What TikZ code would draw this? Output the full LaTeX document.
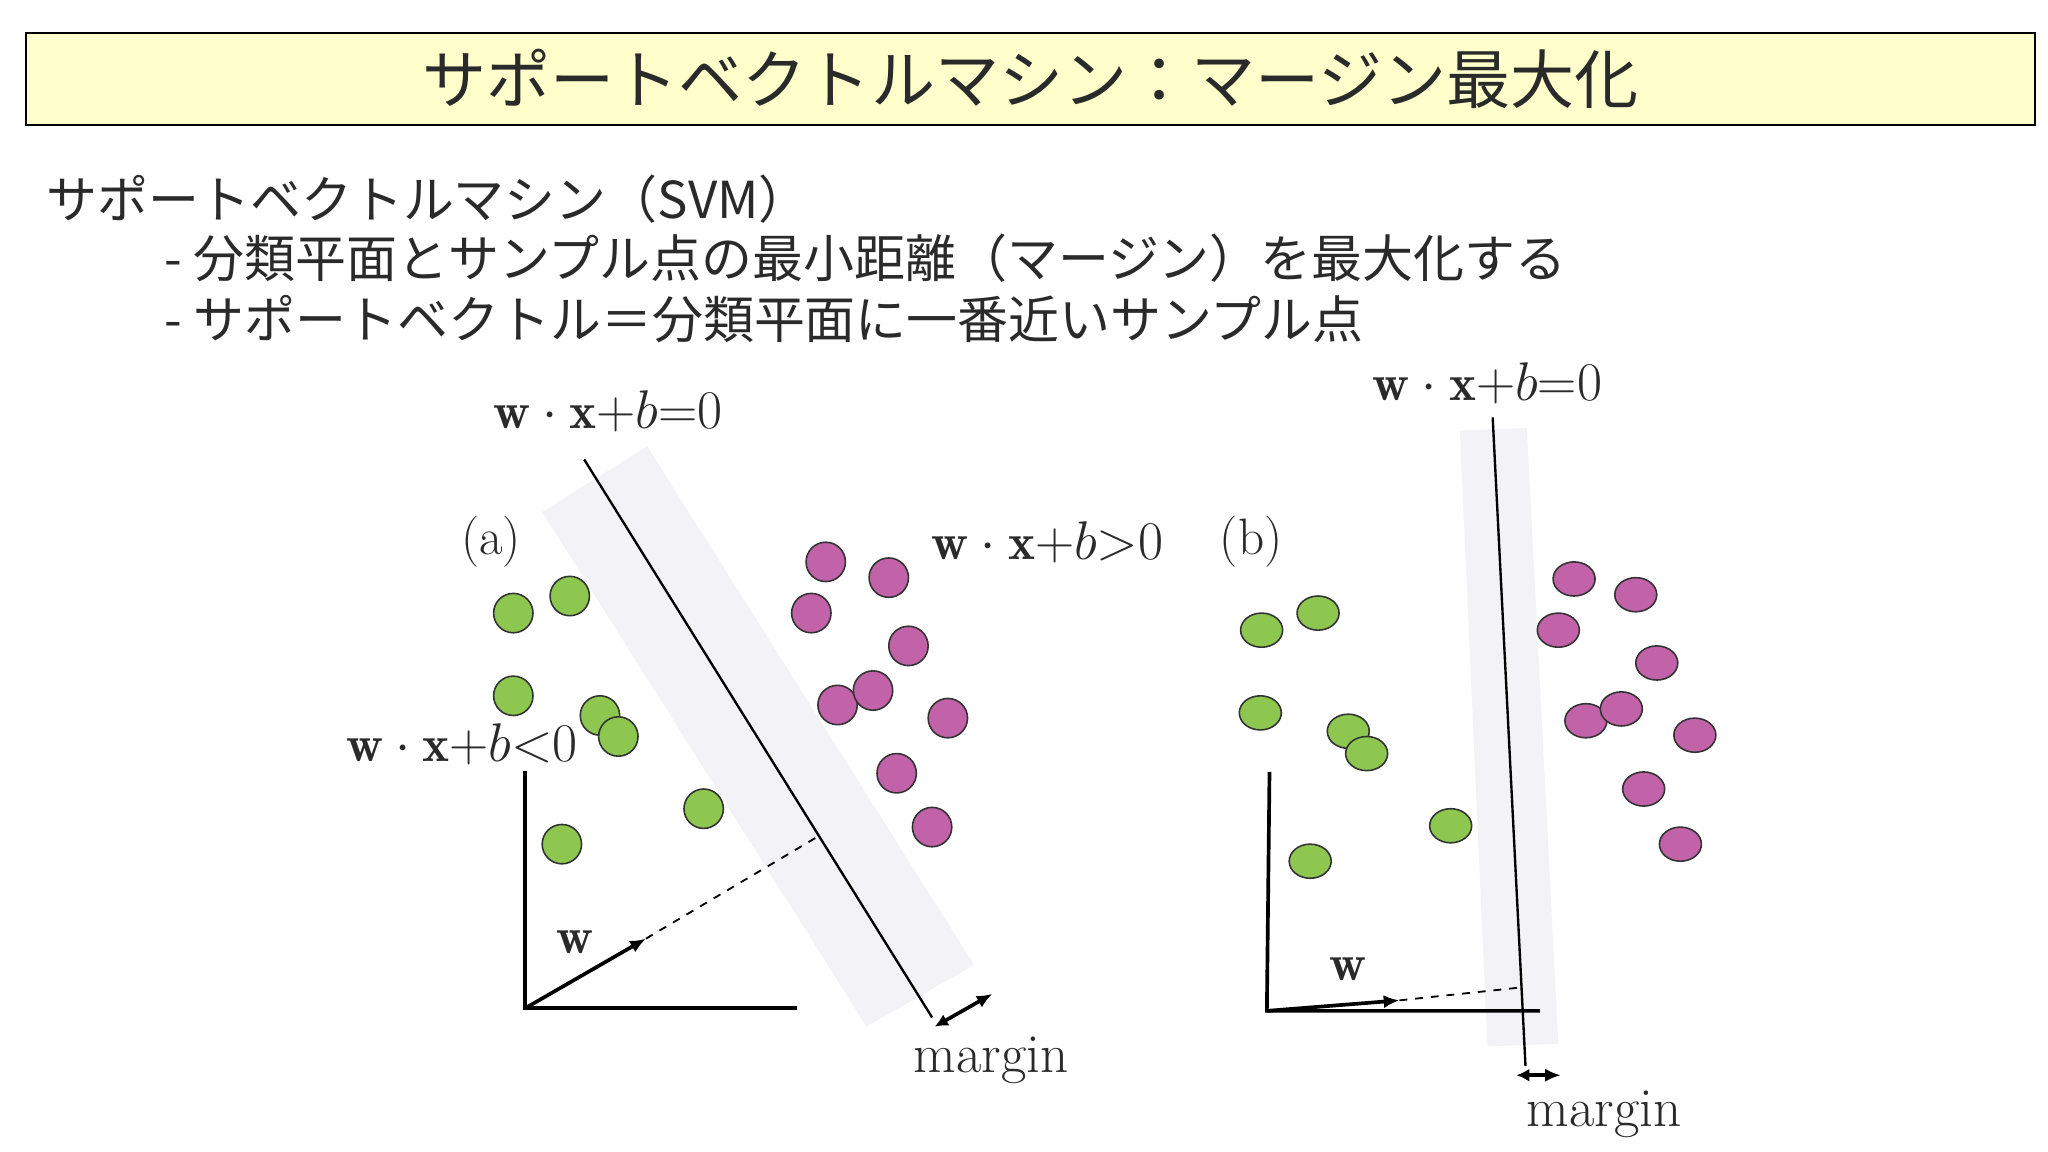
\documentclass[tikz,border=0pt]{standalone}
\usepackage{fontspec}
\newfontfamily\jp{Noto Sans CJK JP}
\usetikzlibrary{arrows.meta}
\definecolor{gr}{HTML}{8DC750}
\definecolor{mg}{HTML}{C262A8}
\definecolor{band}{HTML}{F3F3F7}
\definecolor{ttl}{HTML}{FFFFCC}
\definecolor{ink}{HTML}{2A2A2A}
\tikzset{
 g/.style={fill=gr,draw=black!80,line width=0.6pt},
 m/.style={fill=mg,draw=black!80,line width=0.6pt},
 lab/.style={text=ink,font=\fontsize{19.5}{22}\selectfont,inner sep=0},
 axis/.style={line width=1.4pt},
 tip/.style={-{Latex[length=6pt,width=5pt]}},
 body/.style={anchor=west,inner sep=0,text=ink,font=\jp\fontsize{19.4}{22}\selectfont},
}
\begin{document}
\begin{tikzpicture}[x=0.5pt,y=-0.5pt]
\useasboundingbox (0,0) rectangle (1560,877.5);
\fill[white] (0,0) rectangle (1560,877.5);
% title
\node[draw=black,fill=ttl,minimum width=765pt,minimum height=35pt,inner sep=0,line width=0.6pt,text=ink,font=\jp\fontsize{24.4}{27}\selectfont] (title) at (785,60) {サポートベクトルマシン：マージン最大化};
\node[body] (l1) at (35,152) {サポートベクトルマシン（SVM）};
\node[body] (l2) at (125,197) {- 分類平面とサンプル点の最小距離（マージン）を最大化する};
\node[body] (l3) at (125,243) {- サポートベクトル＝分類平面に一番近いサンプル点};
% panel a
\fill[band] (413,390) -- (493,340) -- (742,735) -- (660,782) -- cycle;
\coordinate (hA1) at (445,350); \coordinate (hA2) at (710,775);
\draw[line width=0.9pt] (hA1) -- (hA2);
\node[lab] (eqa) at (463,313) {$\mathbf{w}\cdot\mathbf{x}{+}b{=}0$};
\node[lab] (pa) at (374,413) {(a)};
\node[lab] (gt) at (798,413) {$\mathbf{w}\cdot\mathbf{x}{+}b{>}0$};
\node[lab] (lt) at (352,567) {$\mathbf{w}\cdot\mathbf{x}{+}b{<}0$};
\foreach \p in {(391,467),(434,454),(391,530),(457,545),(471,561),(536,616),(428,643)} \draw[g] \p circle[radius=15];
\foreach \p in {(629,428),(677,440),(618,467),(692,492),(638,537),(665,526),(722,547),(683,589),(710,630)} \draw[m] \p circle[radius=15];
\coordinate (oA) at (400,768); \coordinate (yA) at (400,587); \coordinate (xA) at (607,768);
\draw[axis] (yA) -- (oA) -- (xA);
\coordinate (wA) at (492,715); \coordinate (fA) at (625,636);
\draw[axis,tip] (oA) -- (wA);
\draw[dashed,line width=0.7pt] (wA) -- (fA);
\node[lab] (wla) at (438,718) {$\mathbf{w}$};
\coordinate (mA1) at (712,782); \coordinate (mA2) at (756,757);
\draw[line width=1.4pt,{Latex[length=5pt,width=5pt]}-{Latex[length=6pt,width=5pt]}] (mA1) -- (mA2);
\node[lab,font=\fontsize{21}{24}\selectfont] (marga) at (755,808) {margin};
% panel b
\fill[band] (1112,328) -- (1163,326) -- (1187,795) -- (1133,797) -- cycle;
\coordinate (hB1) at (1137,318); \coordinate (hB2) at (1162,812);
\draw[line width=0.9pt] (hB1) -- (hB2);
\node[lab] (eqb) at (1133,292) {$\mathbf{w}\cdot\mathbf{x}{+}b{=}0$};
\node[lab] (pb) at (953,413) {(b)};
\foreach \p in {(961,480),(1004,467),(960,543),(1027,557),(1041,574),(1105,629),(998,656)} \draw[g] \p ellipse[x radius=16,y radius=13];
\foreach \p in {(1199,441),(1246,453),(1187,480),(1262,505),(1208,549),(1235,540),(1291,560),(1252,601),(1280,643)} \draw[m] \p ellipse[x radius=16,y radius=13];
\coordinate (oB) at (965,770); \coordinate (yB) at (967,588); \coordinate (xB) at (1173,770);
\draw[axis] (yB) -- (oB) -- (xB);
\coordinate (wB) at (1066,762); \coordinate (fB) at (1160,752);
\draw[axis,tip] (oB) -- (wB);
\draw[dashed,line width=0.7pt] (wB) -- (fB);
\node[lab] (wlb) at (1027,738) {$\mathbf{w}$};
\coordinate (mB1) at (1155,819); \coordinate (mB2) at (1189,819);
\draw[line width=1.4pt,{Latex[length=5pt,width=5pt]}-{Latex[length=6pt,width=5pt]}] (mB1) -- (mB2);
\node[lab,font=\fontsize{21}{24}\selectfont] (margb) at (1222,849) {margin};
\end{tikzpicture}
\end{document}
